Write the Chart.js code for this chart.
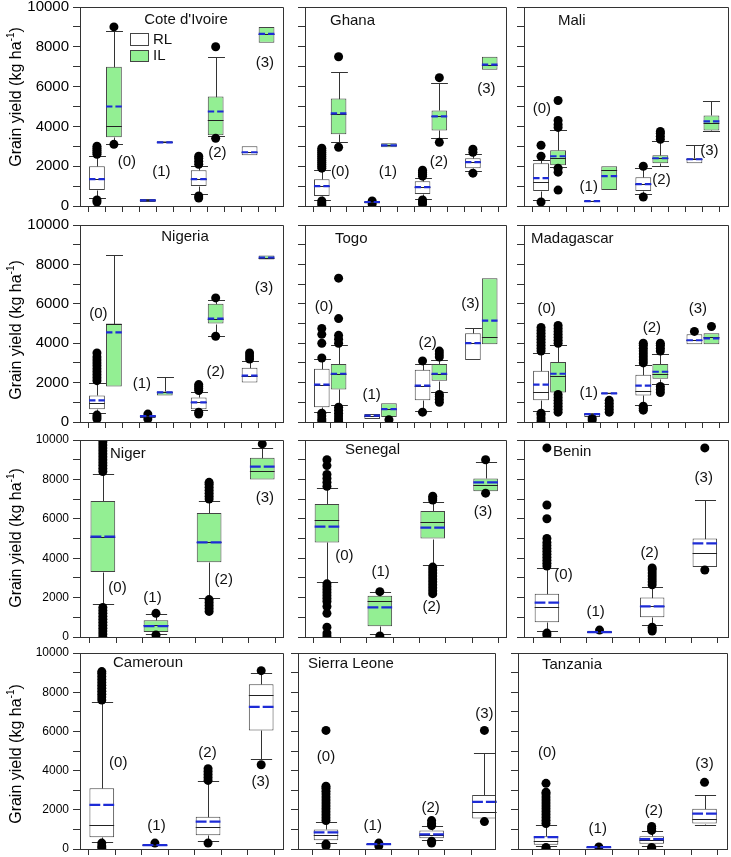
<!DOCTYPE html>
<html><head><meta charset="utf-8">
<script src="https://cdn.jsdelivr.net/npm/chart.js@4/dist/chart.umd.min.js"></script>
<style>
html,body{margin:0;padding:0;background:#fff;}
body{width:731px;height:857px;position:relative;overflow:hidden;font-family:Arial,"Liberation Sans",sans-serif;}
.pc{position:absolute;}
.yt{position:absolute;width:200px;height:20px;line-height:20px;text-align:center;font-size:16px;color:#000;transform:rotate(-90deg);transform-origin:50% 50%;white-space:nowrap;}
.yt sup{font-size:10px;line-height:0;position:relative;top:-1px;}
</style></head><body>
<script>
// ---------------- DATA ----------------
const countries = ["Cote d'Ivoire","Ghana","Mali","Nigeria","Togo","Madagascar","Niger","Senegal","Benin","Cameroun","Sierra Leone","Tanzania"];
const groupLabels = ['(0)','(1)','(2)','(3)'];
const seriesNames = ['RL','IL'];
const yTickValues = [0,1000,2000,3000,4000,5000,6000,7000,8000,9000,10000];
const yLabelValues = [0,2000,4000,6000,8000,10000];
const xTicksWide = [0,1,2,3,4,5,6,7,8,9,10,11,12];
const xTicksNarrow = [1,2,3,4,5,6,7];
const posRLWide = [1,4,7,10];
const posILWide = [2,5,8,11];
const posNarrow = [1,3,5,7];

// box = [lower whisker, Q1, median, Q3, upper whisker, mean]
const CIV_RL = [[400,800,1350,2000,2500,1350],[200,200,280,350,350,280],[600,1000,1350,1800,2000,1350],[2550,2550,2700,3000,3000,2700]];
const CIV_RL_OUT = [[2600,2700,2800,2900,3000,200,300],[],[2100,2250,2400,2500,400,500],[]];
const CIV_IL = [[3100,3450,4000,7000,8800,5000],[3150,3150,3200,3250,3250,3200],[3500,3550,4300,5500,7500,4750],[8200,8200,8650,9000,9000,8650]];
const CIV_IL_OUT = [[9000,3100],[],[8000,3400],[]];

const GHA_RL = [[300,500,1000,1350,1800,1000],[130,130,200,250,250,200],[350,600,950,1250,1400,950],[1750,1900,2200,2400,2600,2200]];
const GHA_RL_OUT = [[1900,2000,2100,2200,2300,2400,2500,2600,2700,2800,2900,50,150,250],[100,250],[1500,1600,1700,1800,100,200,300],[2700,2850,1650]];
const GHA_IL = [[3200,3600,4600,5400,6750,4650],[2950,2950,3050,3150,3150,3050],[3400,3800,4500,4800,6200,4500],[6850,6850,7100,7500,7500,7100]];
const GHA_IL_OUT = [[7500,2950],[],[6450,3200],[]];

const MLI_RL = [[300,750,1200,2150,2300,1400],[220,220,250,270,270,250],[600,750,1100,1450,1900,1100],[2150,2150,2350,2400,3050,2350]];
const MLI_RL_OUT = [[3050,2500,200],[],[2000,450],[]];
const MLI_IL = [[1950,2050,2400,2800,3800,2500],[800,800,1800,2000,2000,1500],[2000,2150,2400,2550,3250,2400],[3750,3800,4150,4550,5300,4250]];
const MLI_IL_OUT = [[3950,4100,4300,5300,1900,1700,800],[],[3350,3500,3650,3750],[]];

const NGA_RL = [[450,650,950,1350,2000,1100],[200,200,300,350,350,300],[600,650,1000,1250,1500,1000],[2000,2000,2350,2750,3100,2350]];
const NGA_RL_OUT = [[2100,2250,2400,2550,2700,2850,3000,3150,3300,3500,150,250,350],[150,400],[1600,1700,1800,1900,400,500],[3200,3350,3500]];
const NGA_IL = [[1800,1800,5000,5000,8500,4550],[1350,1350,1500,1550,2300,1500],[4350,5000,5250,6000,6200,5250],[8250,8250,8350,8450,8450,8350]];
const NGA_IL_OUT = [[],[],[6300,4350],[]];

const TGO_RL = [[500,750,1900,2700,3200,1900],[150,150,320,400,400,320],[550,1100,1850,2650,2950,1850],[3150,3150,4000,4500,4750,4000]];
const TGO_RL_OUT = [[3250,4000,4450,4750,50,150,300,450],[],[3100,500],[]];
const TGO_IL = [[850,1650,2450,2950,3900,2450],[250,250,650,950,950,650],[1500,2100,2450,2950,3150,2450],[3950,3950,4300,7300,7300,5150]];
const TGO_IL_OUT = [[4000,4200,4400,5250,7300,750,600,450,300,150,30],[120],[3300,3450,3600,1000,1150,1300,1400],[]];

const MDG_RL = [[550,1100,1500,2600,3500,1900],[250,250,400,450,450,400],[850,1350,1550,2400,2900,1850],[3950,3950,4150,4450,4450,4150]];
const MDG_RL_OUT = [[3600,3750,3900,4050,4200,4350,4500,4650,4800,50,200,350,450],[100,200],[3000,3150,3300,3450,3600,3750,3900,4000,600,700,800],[4600]];
const MDG_IL = [[1500,1500,2350,3050,3900,2450],[1450,1450,1450,1500,1500,1450],[1950,2200,2450,2950,3450,2550],[3950,3950,4300,4500,4500,4250]];
const MDG_IL_OUT = [[4000,4150,4300,4450,4600,4750,4900,500,650,800,950,1100,1250,1400],[500,650,800,950,1100],[3600,3750,3900,4000,1500,1650,1800],[4850]];

const NER_IL = [[1650,3300,5100,6900,8250,5100],[150,250,600,850,1150,550],[2000,3800,4800,6300,6900,4800],[8000,8000,8450,9100,9600,8650]];
const NER_IL_OUT = [[8400,8550,8700,8850,9000,9150,9300,9450,9600,9750,9900,0,150,300,450,600,750,900,1050,1200,1350,1500],[1200,100],[7000,7150,7300,7450,7600,7750,7850,1300,1450,1600,1750,1900],[9800]];

const SEN_IL = [[2800,4800,5950,6750,7550,5600],[150,550,1850,2100,2300,1500],[3650,5000,5850,6400,6850,5550],[7400,7400,7700,8050,8900,7850]];
const SEN_IL_OUT = [[7650,7850,8050,8250,8700,9000,2700,2550,2400,2250,2100,1950,1800,1550,1200,500,200,50],[2300,50],[6950,7050,7150,3550,3400,3250,3100,2950,2800,2650,2500,2350,2200],[9000,7300]];

const BEN_RL = [[300,750,1500,2200,3500,1750],[200,200,250,320,320,250],[600,1000,1550,2000,2550,1550],[3550,3550,4250,5000,6950,4750]];
const BEN_RL_OUT = [[3600,3750,3900,4050,4200,4350,4500,4650,4800,5000,6000,6700,9600,100,200],[350],[2650,2800,2950,3100,3250,3400,3500,300,400,500],[3400,9600]];

const CMR_RL = [[350,600,1200,3100,7500,2250],[150,150,200,250,250,200],[400,700,1100,1650,3450,1400],[4600,6050,7850,8400,9000,7250]];
const CMR_RL_OUT = [[7600,7750,7900,8050,8200,8350,8500,8650,8800,8950,9050,50,150,300],[300],[3500,3650,3800,3950,4100,300],[9100,4300]];

const SLE_RL = [[300,450,700,1000,1400,850],[200,200,250,270,270,250],[475,550,700,950,1150,750],[1550,1550,1900,2750,4900,2400]];
const SLE_RL_OUT = [[1450,1600,1750,1900,2050,2200,2350,2500,2650,2800,2950,3100,3200,6050,150,250],[150,300],[1200,1300,1450,300,400],[6050,1400]];

const TZA_RL = [[150,220,420,650,1250,610],[100,100,100,120,120,100],[150,270,475,650,900,500],[1200,1300,1550,2050,2750,1800]];
const TZA_RL_OUT = [[1300,1450,1600,1750,1900,2050,2200,2350,2500,2650,2800,2900,3350,0,80],[100],[950,1050,1150,0,80],[3400]];

// label anchor points (data coordinates) for "(0)".."(3)"
const CIV_LAB = [[2.76,2200],[4.8,1700],[8.1,2650],[10.9,7180]];
const GHA_LAB = [[2.1,1730],[4.94,1700],[7.97,2200],[10.8,5880]];
const MLI_LAB = [[1.05,4900],[3.8,940],[8.07,1310],[10.88,2785]];
const NGA_LAB = [[1.08,5500],[3.65,1960],[8.0,2555],[10.85,6800]];
const TGO_LAB = [[1.13,5850],[3.97,1400],[7.3,4000],[9.85,5990]];
const MDG_LAB = [[1.33,5720],[3.8,1500],[7.5,4790],[10.2,5740]];
const NER_LAB = [[1.55,2480],[2.87,1980],[5.55,2900],[7.1,7040]];
const SEN_LAB = [[1.66,4120],[3.03,3330],[4.96,1550],[6.9,6330]];
const BEN_LAB = [[1.63,3160],[2.85,1300],[4.9,4260],[6.96,8060]];
const CMR_LAB = [[1.62,4370],[3.06,1190],[4.98,4915],[6.98,3440]];
const SLE_LAB = [[1.0,4680],[2.77,1190],[4.96,2085],[7.0,6880]];
const TZA_LAB = [[1.04,4880],[2.96,1020],[5.08,1950],[7.0,4340]];

// ---------------- STYLE / LAYOUT ----------------
const GREEN = '#93ef93';
const EDGE = '#444444';
const AXIS = '#333333';
const MEAN = '#1d2bd6';
Chart.defaults.font.family = 'Arial, "Liberation Sans", sans-serif';
Chart.defaults.color = '#000';

const panels = [
 {i:0, rl:CIV_RL, rlOut:CIV_RL_OUT, il:CIV_IL, ilOut:CIV_IL_OUT, lab:CIV_LAB, L:80, R:284, T:7, B:206, wide:true, col:0, tf:15, title:{x:106,y:13,a:'center'}, legend:true},
 {i:1, rl:GHA_RL, rlOut:GHA_RL_OUT, il:GHA_IL, ilOut:GHA_IL_OUT, lab:GHA_LAB, L:305, R:507, T:7, B:206, wide:true, col:1, tf:15, title:{x:25,y:14,a:'left'}},
 {i:2, rl:MLI_RL, rlOut:MLI_RL_OUT, il:MLI_IL, ilOut:MLI_IL_OUT, lab:MLI_LAB, L:524, R:729, T:7, B:206, wide:true, col:2, tf:15, title:{x:34,y:14,a:'left'}},
 {i:3, rl:NGA_RL, rlOut:NGA_RL_OUT, il:NGA_IL, ilOut:NGA_IL_OUT, lab:NGA_LAB, L:80, R:284, T:225, B:422, wide:true, col:0, tf:15, title:{x:105,y:12,a:'center'}},
 {i:4, rl:TGO_RL, rlOut:TGO_RL_OUT, il:TGO_IL, ilOut:TGO_IL_OUT, lab:TGO_LAB, L:305, R:507, T:225, B:422, wide:true, col:1, tf:15, title:{x:30,y:14,a:'left'}},
 {i:5, rl:MDG_RL, rlOut:MDG_RL_OUT, il:MDG_IL, ilOut:MDG_IL_OUT, lab:MDG_LAB, L:524, R:729, T:225, B:422, wide:true, col:2, tf:15, title:{x:7,y:14,a:'left'}},
 {i:6, il:NER_IL, ilOut:NER_IL_OUT, lab:NER_LAB, L:80, R:284, T:440, B:637, wide:false, xr:[0.14,7.8], col:0, tf:12, title:{x:30,y:14,a:'left'}},
 {i:7, il:SEN_IL, ilOut:SEN_IL_OUT, lab:SEN_LAB, L:305, R:507, T:440, B:637, wide:false, xr:[0.17,7.79], col:1, tf:12, title:{x:40,y:10,a:'left'}},
 {i:8, rl:BEN_RL, rlOut:BEN_RL_OUT, lab:BEN_LAB, L:524, R:729, T:440, B:637, wide:false, xr:[0.13,7.9], col:2, tf:12, title:{x:29,y:12,a:'left'}},
 {i:9, rl:CMR_RL, rlOut:CMR_RL_OUT, lab:CMR_LAB, L:80, R:284, T:653, B:849, wide:false, xr:[0.18,7.84], col:0, tf:12, title:{x:33,y:10,a:'left'}},
 {i:10, rl:SLE_RL, rlOut:SLE_RL_OUT, lab:SLE_LAB, L:298, R:496, T:653, B:849, wide:false, xr:[-0.06,7.42], col:1, tf:12, title:{x:10,y:11,a:'left'}},
 {i:11, rl:TZA_RL, rlOut:TZA_RL_OUT, lab:TZA_LAB, L:518, R:728, T:653, B:849, wide:false, xr:[-0.06,7.87], col:2, tf:12, title:{x:24,y:12,a:'left'}}
];

function outlierPoints(pos, outs) {
  const a = [];
  outs.forEach((arr, k) => arr.forEach(v => a.push({x: pos[k], y: v})));
  return a;
}

function build(p) {
  const leftCol = p.col === 0;
  const axW = leftCol ? 80 : 12, padT = 16, padR = 4, axH = 16;
  const w = axW + (p.R - p.L) + padR, h = padT + (p.B - p.T) + axH;
  const wrap = document.createElement('div');
  wrap.className = 'pc';
  wrap.style.left = (p.L - axW) + 'px'; wrap.style.top = (p.T - padT) + 'px';
  wrap.style.width = w + 'px'; wrap.style.height = h + 'px';
  const cv = document.createElement('canvas');
  cv.width = w; cv.height = h; cv.style.width = w + 'px'; cv.style.height = h + 'px';
  wrap.appendChild(cv); document.body.appendChild(wrap);

  const xr = p.wide ? [0, 12] : p.xr;
  const xt = p.wide ? xTicksWide : xTicksNarrow;
  const capHalf = p.wide ? 0.5 : 0.4;
  const series = [];
  if (p.rl) series.push({name: seriesNames[0], boxes: p.rl, out: p.rlOut, pos: p.wide ? posRLWide : posNarrow, fill: '#ffffff'});
  if (p.il) series.push({name: seriesNames[1], boxes: p.il, out: p.ilOut, pos: p.wide ? posILWide : posNarrow, fill: GREEN});

  const datasets = [];
  series.forEach(s => datasets.push({
    type: 'bar', label: s.name,
    data: s.boxes.map((b, k) => ({x: s.pos[k], y: [b[1], b[3]]})),
    backgroundColor: s.fill, borderColor: EDGE, borderWidth: 1, borderSkipped: false,
    grouped: false, barPercentage: 0.93, categoryPercentage: 1, order: 2
  }));
  series.forEach(s => datasets.push({
    type: 'scatter', label: s.name + ' outliers',
    data: outlierPoints(s.pos, s.out),
    pointRadius: 4.5, pointBackgroundColor: '#000', pointBorderWidth: 0, pointHoverRadius: 4.5, order: 1
  }));

  const extras = {
    id: 'boxExtras' + p.i,
    beforeDatasetsDraw(chart) {
      const ctx = chart.ctx, xs = chart.scales.x, ys = chart.scales.y;
      ctx.save(); ctx.strokeStyle = AXIS; ctx.lineWidth = 1;
      series.forEach(s => s.boxes.forEach((b, k) => {
        const x = Math.round(xs.getPixelForValue(s.pos[k])) + 0.5;
        const cw = xs.getPixelForValue(s.pos[k] + capHalf) - xs.getPixelForValue(s.pos[k]);
        const yv = v => Math.round(ys.getPixelForValue(v)) + 0.5;
        ctx.beginPath();
        if (b[4] > b[3]) { ctx.moveTo(x, yv(b[3])); ctx.lineTo(x, yv(b[4])); ctx.moveTo(x - cw, yv(b[4])); ctx.lineTo(x + cw, yv(b[4])); }
        if (b[0] < b[1]) { ctx.moveTo(x, yv(b[1])); ctx.lineTo(x, yv(b[0])); ctx.moveTo(x - cw, yv(b[0])); ctx.lineTo(x + cw, yv(b[0])); }
        ctx.stroke();
      }));
      ctx.restore();
    },
    afterDatasetsDraw(chart) {
      const ctx = chart.ctx, ys = chart.scales.y;
      ctx.save();
      series.forEach((s, si) => {
        const meta = chart.getDatasetMeta(si);
        s.boxes.forEach((b, k) => {
          const el = meta.data[k]; const hw = el.width / 2;
          const ym = Math.round(ys.getPixelForValue(b[2])) + 0.5;
          ctx.setLineDash([]); ctx.strokeStyle = '#222'; ctx.lineWidth = 1;
          ctx.beginPath(); ctx.moveTo(el.x - hw, ym); ctx.lineTo(el.x + hw, ym); ctx.stroke();
          const ya = ys.getPixelForValue(b[5]);
          ctx.strokeStyle = MEAN; ctx.lineWidth = 2.2;
          ctx.setLineDash([(el.width - 3) / 2, 3]);
          ctx.beginPath(); ctx.moveTo(el.x - hw, ya); ctx.lineTo(el.x + hw, ya); ctx.stroke();
        });
      });
      ctx.restore();
    },
    afterDraw(chart) {
      const ctx = chart.ctx, ca = chart.chartArea, xs = chart.scales.x, ys = chart.scales.y;
      ctx.save();
      ctx.strokeStyle = AXIS; ctx.lineWidth = 1;
      ctx.beginPath();
      ctx.moveTo(ca.left, Math.round(ca.top) + 0.5); ctx.lineTo(Math.round(ca.right) - 0.5, Math.round(ca.top) + 0.5);
      ctx.lineTo(Math.round(ca.right) - 0.5, ca.bottom);
      ctx.stroke();
      ctx.fillStyle = '#111';
      ctx.font = '15px Arial, "Liberation Sans", sans-serif';
      ctx.textBaseline = 'middle';
      ctx.textAlign = p.title.a;
      ctx.fillText(countries[p.i], ca.left + p.title.x, ca.top + p.title.y);
      ctx.textAlign = 'center';
      p.lab.forEach((pt, k) => ctx.fillText(groupLabels[k], xs.getPixelForValue(pt[0]), ys.getPixelForValue(pt[1])));
      if (p.legend) {
        ctx.lineWidth = 1; ctx.strokeStyle = EDGE;
        ctx.fillStyle = '#fff'; ctx.fillRect(ca.left + 50.5, ca.top + 26.5, 18, 12); ctx.strokeRect(ca.left + 50.5, ca.top + 26.5, 18, 12);
        ctx.fillStyle = GREEN; ctx.fillRect(ca.left + 50.5, ca.top + 43.5, 18, 11); ctx.strokeRect(ca.left + 50.5, ca.top + 43.5, 18, 11);
        ctx.fillStyle = '#111'; ctx.textAlign = 'left';
        ctx.fillText(seriesNames[0], ca.left + 73, ca.top + 33);
        ctx.fillText(seriesNames[1], ca.left + 73, ca.top + 49);
      }
      ctx.restore();
    }
  };

  new Chart(cv, {
    type: 'bar',
    data: {datasets},
    options: {
      responsive: false, animation: false, events: [],
      layout: {padding: {top: padT, right: padR, left: 0, bottom: 0}},
      plugins: {legend: {display: false}, tooltip: {enabled: false}, title: {display: false}},
      scales: {
        x: {
          type: 'linear', min: xr[0], max: xr[1], bounds: 'data', offset: false,
          afterBuildTicks: s => { s.ticks = xt.map(v => ({value: v})); },
          afterFit: s => { s.height = axH; },
          ticks: {autoSkip: false, callback: () => ''},
          grid: {drawOnChartArea: false, drawTicks: true, tickLength: 6, color: AXIS, lineWidth: 1},
          border: {display: true, color: AXIS, width: 1}
        },
        y: {
          type: 'linear', min: 0, max: 10000, bounds: 'data',
          afterBuildTicks: s => { s.ticks = yTickValues.map(v => ({value: v})); },
          afterFit: s => { s.width = axW; },
          ticks: {autoSkip: false, padding: 4, color: '#000', font: {size: p.tf},
                  callback: v => (leftCol && yLabelValues.includes(v)) ? String(v) : ''},
          grid: {drawOnChartArea: false, drawTicks: true, tickLength: 7, color: AXIS, lineWidth: 1},
          border: {display: true, color: AXIS, width: 1}
        }
      }
    },
    plugins: [extras]
  });
}

panels.forEach(build);

// y-axis titles (one per row)
[97, 330, 538, 754].forEach(cy => {
  const d = document.createElement('div');
  d.className = 'yt';
  d.style.left = (16 - 100) + 'px';
  d.style.top = (cy - 10) + 'px';
  d.innerHTML = 'Grain yield (kg ha<sup>-1</sup>)';
  document.body.appendChild(d);
});
</script>
</body></html>
